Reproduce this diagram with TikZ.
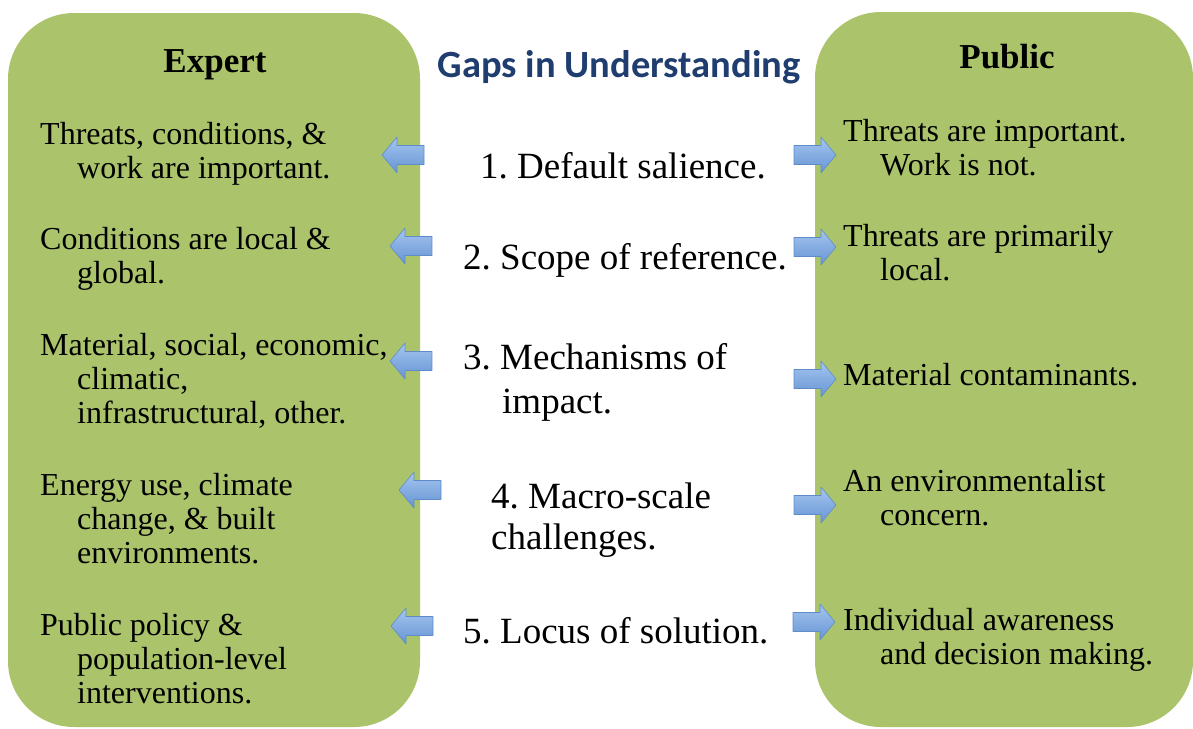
\documentclass[tikz,border=0pt]{standalone}
\usepackage{fontspec}
\setmainfont{Liberation Serif}
\newfontfamily\titlefont{Carlito}
\frenchspacing

\definecolor{panelgreen}{HTML}{ABC46B}
\definecolor{titleblue}{HTML}{1F3D6E}
\definecolor{arrowtop}{HTML}{A5C6F0}
\definecolor{arrowbot}{HTML}{6694D3}
\definecolor{arrowedge}{HTML}{5F8CC9}

% block arrows, centred at (#1,#2)
\newcommand{\gapArrowL}[2]{%
  \path[blockarrow] (#1-21,#2) -- (#1-6,#2-18) -- (#1-6,#2-9.5) -- (#1+21,#2-9.5)
    -- (#1+21,#2+9.5) -- (#1-6,#2+9.5) -- (#1-6,#2+18) -- cycle;}
\newcommand{\gapArrowR}[2]{%
  \path[blockarrow] (#1+21,#2) -- (#1+6,#2-18) -- (#1+6,#2-9.5) -- (#1-21,#2-9.5)
    -- (#1-21,#2+9.5) -- (#1+6,#2+9.5) -- (#1+6,#2+18) -- cycle;}

\tikzset{
  panel/.style={fill=panelgreen, rounded corners=66pt},
  blockarrow/.style={top color=arrowtop, bottom color=arrowbot, draw=arrowedge,
    line width=0.6pt, line join=round},
  head/.style={anchor=base, inner sep=0pt, font=\bfseries\fontsize{35}{40}\selectfont},
  body/.style={anchor=base west, inner sep=0pt, font=\fontsize{32}{34}\selectfont},
  gap/.style={anchor=base west, inner sep=0pt, font=\fontsize{37}{44}\selectfont},
}

\begin{document}
\begin{tikzpicture}[x=1pt,y=-1pt]
\useasboundingbox (0,0) rectangle (1193,728);

% the two sides
\path[panel] (8,13) rectangle (420,727);
\path[panel] (815,12) rectangle (1193,727);

% headings
\node[head] (expert) at (215,72.5) {Expert};
\node[head] (public) at (1007,68) {Public};
\node[anchor=base, inner sep=0pt, text=titleblue,
      font=\titlefont\bfseries\fontsize{38.5}{44}\selectfont] (title) at (619,77)
      {Gaps in Understanding};

% expert column
\node[body] (e1a) at (40,144.5) {Threats, conditions, \&};
\node[body] (e1b) at (77,178.5) {work are important.};
\node[body] (e2a) at (40,249.5) {Conditions are local \&};
\node[body] (e2b) at (77,283.5) {global.};
\node[body] (e3a) at (40,355) {Material, social, economic,};
\node[body] (e3b) at (77,389) {climatic,};
\node[body] (e3c) at (77,423) {infrastructural, other.};
\node[body] (e4a) at (40,495) {Energy use, climate};
\node[body] (e4b) at (77,529) {change, \& built};
\node[body] (e4c) at (77,563) {environments.};
\node[body] (e5a) at (40,635) {Public policy \&};
\node[body] (e5b) at (77,669) {population-level};
\node[body] (e5c) at (77,703) {interventions.};

% public column
\node[body] (p1a) at (843,141.5) {Threats are important.};
\node[body] (p1b) at (880,175.5) {Work is not.};
\node[body] (p2a) at (843,246.5) {Threats are primarily};
\node[body] (p2b) at (880,280.5) {local.};
\node[body] (p3a) at (843,385.5) {Material contaminants.};
\node[body] (p4a) at (843,491.5) {An environmentalist};
\node[body] (p4b) at (880,525.5) {concern.};
\node[body] (p5a) at (843,630) {Individual awareness};
\node[body] (p5b) at (880,664) {and decision making.};

% the gaps between them
\node[gap] (g1) at (480,178) {1. Default salience.};
\node[gap] (g2) at (463,269) {2. Scope of reference.};
\node[gap] (g3a) at (463,369) {3. Mechanisms of};
\node[gap] (g3b) at (502,413) {impact.};
\node[gap] (g4a) at (491,508) {4. Macro-scale};
\node[gap] (g4b) at (491,549) {challenges.};
\node[gap] (g5) at (463,643) {5. Locus of solution.};

% arrows pointing out to each side
\gapArrowL{403}{155}
\gapArrowL{411}{246}
\gapArrowL{411}{361}
\gapArrowL{420}{490}
\gapArrowL{412}{626}
\gapArrowR{815}{155}
\gapArrowR{815}{247}
\gapArrowR{815}{379}
\gapArrowR{815}{505}
\gapArrowR{814}{622}
\end{tikzpicture}
\end{document}
